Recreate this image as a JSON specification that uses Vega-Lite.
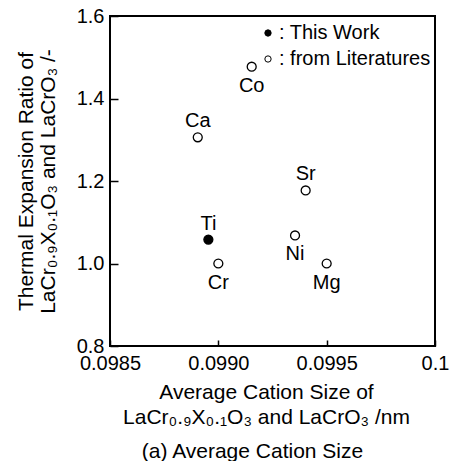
{
  "$schema": "https://vega.github.io/schema/vega-lite/v6.json",
  "width": 325,
  "height": 330,
  "autosize": {"type": "none"},
  "padding": {"left": 110, "top": 16, "right": 19, "bottom": 115},
  "background": "white",
  "config": {
    "font": "Liberation Sans",
    "view": {"stroke": "black", "strokeWidth": 2},
    "axis": {"grid": false, "domain": false, "tickColor": "black", "tickWidth": 1.5, "labelColor": "black", "titleColor": "black", "titleFontWeight": "normal", "labelFontSize": 20, "titleFontSize": 21}
  },
  "title": {"text": "(a) Average Cation Size", "orient": "bottom", "anchor": "middle", "dx": -20, "offset": 14, "fontSize": 21, "fontWeight": "normal", "color": "black"},
  "data": {"values": [
    {"el": "Ti", "x": 0.098954, "y": 1.058, "src": "This Work", "pos": "above"},
    {"el": "Ca", "x": 0.098905, "y": 1.306, "src": "from Literatures", "pos": "above"},
    {"el": "Co", "x": 0.099154, "y": 1.477, "src": "from Literatures", "pos": "below"},
    {"el": "Sr", "x": 0.099403, "y": 1.177, "src": "from Literatures", "pos": "above"},
    {"el": "Cr", "x": 0.0990, "y": 1.0, "src": "from Literatures", "pos": "below"},
    {"el": "Ni", "x": 0.099354, "y": 1.068, "src": "from Literatures", "pos": "below"},
    {"el": "Mg", "x": 0.0995, "y": 1.0, "src": "from Literatures", "pos": "below"}
  ]},
  "encoding": {
    "x": {"field": "x", "type": "quantitative",
      "scale": {"domain": [0.0985, 0.1], "zero": false, "nice": false},
      "axis": {"values": [0.0985, 0.099, 0.0995, 0.1], "labelExpr": "datum.value >= 0.1 ? '0.1' : format(datum.value, '.4f')", "tickSize": -6, "labelPadding": 13, "labelFlush": false,
        "title": ["Average Cation Size of", "LaCr₀.₉X₀.₁O₃ and LaCrO₃ /nm"], "titleLineHeight": 25, "titleBaseline": "alphabetic", "titleY": 52, "titleX": 156}},
    "y": {"field": "y", "type": "quantitative",
      "scale": {"domain": [0.8, 1.6], "zero": false, "nice": false},
      "axis": {"values": [0.8, 1.0, 1.2, 1.4, 1.6], "format": ".1f", "tickSize": -8, "labelPadding": 14, "labelFlush": false,
        "title": ["Thermal Expansion Ratio of", "LaCr₀.₉X₀.₁O₃ and LaCrO₃ /-"], "titleLineHeight": 22, "titleBaseline": "alphabetic", "titleX": -78}}
  },
  "layer": [
    {"mark": {"type": "point", "filled": true, "stroke": "black", "strokeWidth": 1.3, "size": 80, "opacity": 1},
      "encoding": {"fill": {"field": "src", "type": "nominal",
        "scale": {"domain": ["This Work", "from Literatures"], "range": ["black", "white"]},
        "legend": {"title": null, "orient": "none", "legendX": 148, "legendY": 7, "symbolSize": 40, "symbolStrokeColor": "black", "symbolStrokeWidth": 1, "labelFontSize": 20, "labelColor": "black", "labelOffset": 1, "rowPadding": 6, "padding": 0, "labelExpr": "': ' + datum.label"}}}},
    {"transform": [{"filter": "datum.pos == 'above'"}],
      "mark": {"type": "text", "baseline": "alphabetic", "dy": -10, "fontSize": 20, "color": "black"},
      "encoding": {"text": {"field": "el"}}},
    {"transform": [{"filter": "datum.pos == 'below'"}],
      "mark": {"type": "text", "baseline": "top", "dy": 9, "fontSize": 20, "color": "black"},
      "encoding": {"text": {"field": "el"}}}
  ]
}
